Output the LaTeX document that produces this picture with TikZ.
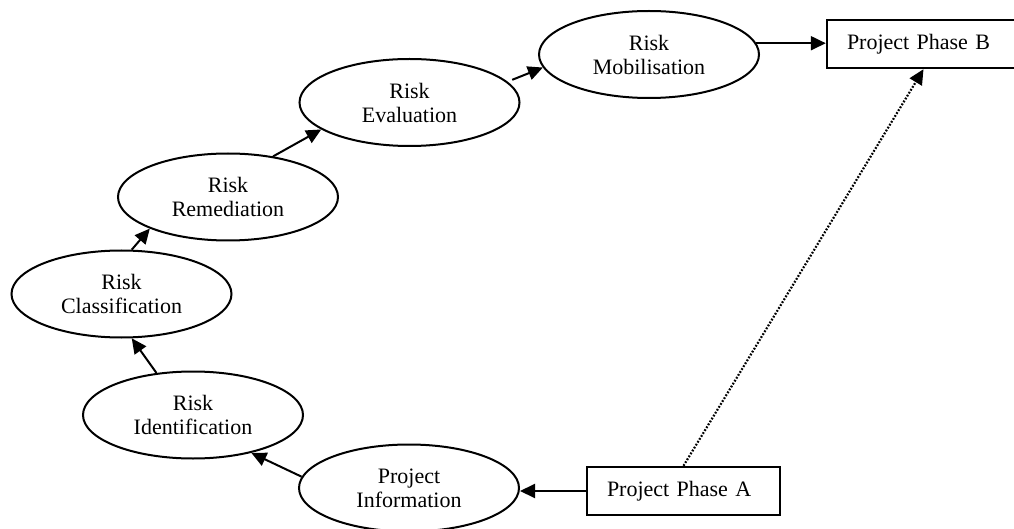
\documentclass[tikz,border=0pt]{standalone}
\usepackage{fontspec}
\setmainfont{Liberation Serif}
\usetikzlibrary{shapes.geometric,arrows.meta}
\begin{document}
\begin{tikzpicture}[x=1pt,y=-1pt,
  every node/.style={font=\fontsize{22}{24}\selectfont},
  oval/.style={ellipse,draw,line width=2pt,minimum width=220pt,minimum height=87pt,inner sep=0pt,align=center},
  phasebox/.style={rectangle,draw,line width=2.4pt,minimum height=48pt,inner xsep=20pt,inner ysep=0pt,text width=153pt,align=left},
  link/.style={line width=2pt,-{Triangle[length=15pt,width=14pt]}},
  dotlink/.style={line width=2.2pt,dash pattern=on 1.8pt off 1.6pt,-{Triangle[length=15pt,width=14pt]}}]
\useasboundingbox (0,0) rectangle (1014,529);
\node[oval] (mob) at (649,54.5) {Risk\\Mobilisation};
\node[oval] (eval) at (409.5,102.5) {Risk\\Evaluation};
\node[oval] (rem) at (228,197) {Risk\\Remediation};
\node[oval] (cls) at (121.5,294) {Risk\\Classification};
\node[oval] (ident) at (193,415) {Risk\\Identification};
\node[oval] (info) at (409,488) {Project\\Information};
\node[phasebox] (pb) at (923.5,44) {Project Phase B};
\node[phasebox] (pa) at (683.5,491) {Project Phase A};
\draw[link] (pa.west) -- (pa.west -| info.east);
\draw[link] (info.174) -- (ident.-33);
\draw[link] (ident.131) -- (cls.-77);
\draw[link] (cls.77) -- (rem.202);
\draw[link] (rem.42) -- (eval.197);
\draw[link,shorten <=5pt] (eval.12) -- (mob.187);
\draw[link] (mob.6) -- (mob.6 -| pb.west);
\draw[dotlink] (pa.north) -- (pb.south);
\end{tikzpicture}
\end{document}
